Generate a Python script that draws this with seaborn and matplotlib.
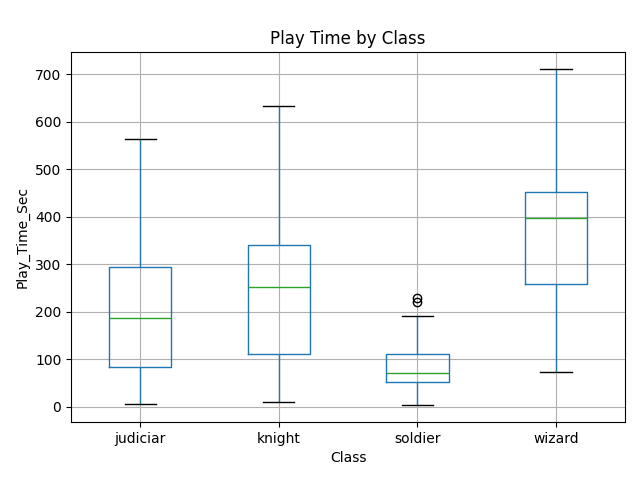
import pandas as pd
import seaborn as sns
import matplotlib
matplotlib.use("Agg")
import matplotlib.pyplot as plt

# =============================================================================
# Data
# =============================================================================

classes = ["judiciar", "knight", "soldier", "wizard"]

judiciar_times = [6, 84, 187, 294, 563]
knight_times = [10, 110, 252, 341, 634]
soldier_times = [3, 20, 40, 51, 60, 65, 71, 80, 100, 111, 190, 221, 229]
wizard_times = [73, 259, 398, 453, 712]

rows = []
for name, vals in zip(classes, [judiciar_times, knight_times, soldier_times, wizard_times]):
    for v in vals:
        rows.append({"Class": name, "Play_Time_Sec": v})
df = pd.DataFrame(rows)

# =============================================================================
# Plot
# =============================================================================

fig, ax = plt.subplots(figsize=(6.4, 4.8), dpi=100)

sns.boxplot(
    data=df,
    x="Class",
    y="Play_Time_Sec",
    order=classes,
    fill=False,
    width=0.45,
    linewidth=1,
    boxprops=dict(color="#1f77b4", linewidth=1),
    whiskerprops=dict(color="#1f77b4", linewidth=1),
    capprops=dict(color="black", linewidth=1),
    medianprops=dict(color="#2ca02c", linewidth=1),
    flierprops=dict(marker="o", markerfacecolor="none", markeredgecolor="black", markersize=6),
    ax=ax,
)

ax.grid(True, color="#b0b0b0", linewidth=0.8)
ax.set_axisbelow(True)
ax.set_title("Play Time by Class")
ax.set_xlabel("Class")
ax.set_ylabel("Play_Time_Sec")

fig.subplots_adjust(left=0.111, right=0.977, top=0.892, bottom=0.121)
plt.savefig("out.png", dpi=100)
